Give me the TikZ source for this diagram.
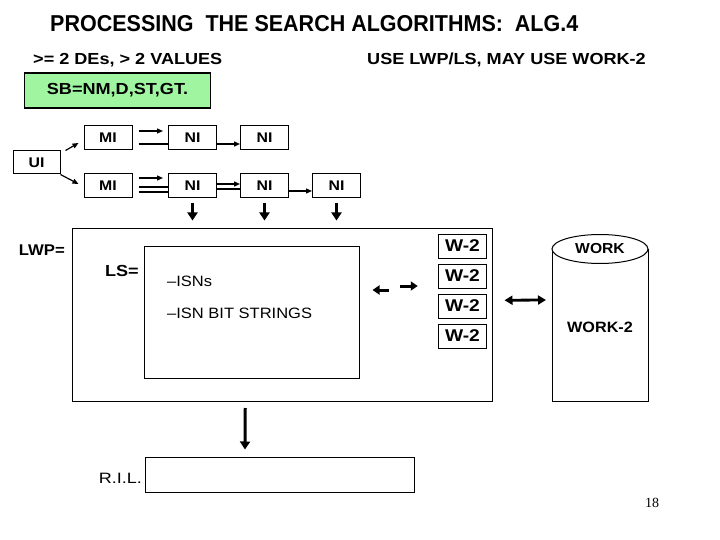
\documentclass[tikz,border=0pt]{standalone}
\usepackage{fontspec}
\setmainfont{Liberation Sans}
\newfontfamily\tfont[FakeStretch=0.935]{Liberation Sans}
\newfontfamily\gfont[FakeStretch=1.13]{Liberation Sans}
\newfontfamily\wfont[FakeStretch=1.08]{Liberation Sans}
\newfontfamily\pfont[FakeStretch=1.1]{Liberation Sans}
\newfontfamily\rfont[FakeStretch=1.2]{Liberation Sans}
\newfontfamily\numfont{Liberation Serif}
\usetikzlibrary{arrows.meta,calc,shapes.geometric}
\definecolor{sbgreen}{RGB}{160,245,160}
\tikzset{
  box/.style={draw,line width=1pt,minimum width=48pt,minimum height=24pt,inner sep=0pt,font=\gfont\bfseries\fontsize{14}{14}\selectfont},
  wbox/.style={draw,line width=1pt,minimum width=48.5pt,minimum height=24pt,inner sep=0pt,font=\gfont\bfseries\fontsize{17}{17}\selectfont},
  frame/.style={draw,line width=1pt,inner sep=0pt},
  lbl/.style={inner sep=0pt,font=\gfont\bfseries\fontsize{16}{16}\selectfont},
  plain/.style={inner sep=0pt,font=\pfont\fontsize{15}{15}\selectfont},
  thin/.style={line width=1.2pt,-{Triangle[length=6pt,width=5pt]}},
  bare/.style={line width=1.2pt},
  fat/.style={line width=3pt,-{Triangle[length=8pt,width=10pt]}},
  mid/.style={line width=3pt,-{Triangle[length=7pt,width=9pt]}},
  dbl/.style={line width=2.8pt,{Triangle[length=8pt,width=9pt]}-{Triangle[length=8pt,width=9pt]}}
}
\begin{document}
\begin{tikzpicture}[x=1pt,y=-1pt]
\useasboundingbox (0,0) rectangle (720,540);
% titles
\node[anchor=west,inner sep=0pt,font=\tfont\bfseries\fontsize{23}{23}\selectfont] (title) at (50,24) {PROCESSING\ \ THE SEARCH ALGORITHMS:\ \ ALG.4};
\node[lbl,anchor=west] (sub1) at (33,60) {>= 2 DEs, > 2 VALUES};
\node[lbl,anchor=west] (sub2) at (367,60) {USE LWP/LS, MAY USE WORK-2};
\node[draw,line width=1.1pt,fill=sbgreen,minimum width=186pt,minimum height=35pt,inner sep=0pt,font=\gfont\bfseries\fontsize{16}{16}\selectfont] (sb) at (117.5,90.5) {SB=NM,D,ST,GT.};
% top boxes
\node[box,minimum width=47pt,minimum height=23pt] (ui) at (36.5,162.5) {UI};
\node[box] (mi1) at (108,138) {MI};
\node[box] (mi2) at (108,186) {MI};
\node[box] (ni1) at (192.5,138) {NI};
\node[box] (ni2) at (264.5,138) {NI};
\node[box] (nb1) at (192.5,186) {NI};
\node[box] (nb2) at (264.5,186) {NI};
\node[box] (nb3) at (336.5,186) {NI};
% LWP and LS
\node[frame,minimum width=419.5pt,minimum height=172.5pt] (lwp) at (282.25,315.25) {};
\node[frame,minimum width=215pt,minimum height=132pt] (ls) at (251.5,312) {};
\node[inner sep=0pt,anchor=east,font=\wfont\bfseries\fontsize{15.5}{15.5}\selectfont] (lwpl) at (65,250) {LWP=};
\node[lbl,anchor=east] (lsl) at (139,271) {LS=};
\node[plain,anchor=west] (isn1) at (167,281) {–ISNs};
\node[plain,anchor=west] (isn2) at (167,313) {–ISN BIT STRINGS};
\node[wbox] (w1) at (462.5,246) {W-2};
\node[wbox] (w2) at (462.5,276) {W-2};
\node[wbox] (w3) at (462.5,306) {W-2};
\node[wbox] (w4) at (462.5,336) {W-2};
% cylinder
\draw[line width=1pt] (552,249) -- (552,401.5) -- (648,401.5) -- (648,249);
\node[draw,ellipse,line width=1pt,fill=white,minimum width=96pt,minimum height=29pt,inner sep=0pt,font=\wfont\bfseries\fontsize{14.5}{14.5}\selectfont] (work) at (600,249) {WORK};
\node[inner sep=0pt,font=\wfont\bfseries\fontsize{15}{15}\selectfont] (work2) at (600,327) {WORK-2};
\coordinate (cylL) at (552,300);
% RIL
\node[frame,minimum width=269pt,minimum height=35pt] (ril) at (279.5,474.5) {};
\node[inner sep=0pt,anchor=east,font=\rfont\fontsize{15}{15}\selectfont] (rill) at (142,478) {R.I.L.};
\node[inner sep=0pt,font=\numfont\fontsize{14}{14}\selectfont] (pg) at (652,503) {18};
% connectors
\draw[thin] ([xshift=5pt]ui.north east) -- ([shift={(-5pt,-5pt)}]mi1.west);
\draw[thin] ([xshift=0pt]ui.south east) -- ([shift={(-5pt,2pt)}]mi2.west);
\draw[thin] ([shift={(6pt,7pt)}]mi1.east) -- ([shift={(-5pt,7pt)}]ni1.west);
\draw[bare] ([shift={(6pt,-6pt)}]mi1.east) -- ([yshift=-6pt]ni1.west);
\draw[thin] ([yshift=-6pt]ni1.east) -- ([yshift=-6pt]ni2.west);
\draw[thin] ([shift={(6pt,8pt)}]mi2.east) -- ([shift={(-5pt,8pt)}]nb1.west);
\draw[bare] ([shift={(6pt,-1pt)}]mi2.east) -- ([yshift=-1pt]nb1.west);
\draw[bare] ([shift={(6pt,-6pt)}]mi2.east) -- ([yshift=-6pt]nb1.west);
\draw[thin] ([yshift=2pt]nb1.east) -- ([yshift=2pt]nb2.west);
\draw[bare] ([yshift=-3pt]nb1.east) -- ([yshift=-3pt]nb2.west);
\draw[thin] ([yshift=-5pt]nb2.east) -- ([yshift=-5pt]nb3.west);
\draw[fat] ([yshift=-5pt]nb1.south) -- ($(nb1.south |- lwp.north)+(0,-8)$);
\draw[fat] ([yshift=-5pt]nb2.south) -- ($(nb2.south |- lwp.north)+(0,-8)$);
\draw[fat] ([yshift=-5pt]nb3.south) -- ($(nb3.south |- lwp.north)+(0,-8)$);
\draw[mid] ($(ls.east)+(29,-22)$) -- ($(ls.east)+(13,-22)$);
\draw[mid] ($(w2.west)+(-38,10)$) -- ($(w2.west)+(-20,10)$);
\draw[dbl] ($(lwp.east)+(12,-15)$) -- ($(cylL)+(-6,0)$);
\draw[fat] ($(lwp.south)+(-37,6)$) -- ($(ril.north)+(-34.5,-7)$);
\end{tikzpicture}
\end{document}
